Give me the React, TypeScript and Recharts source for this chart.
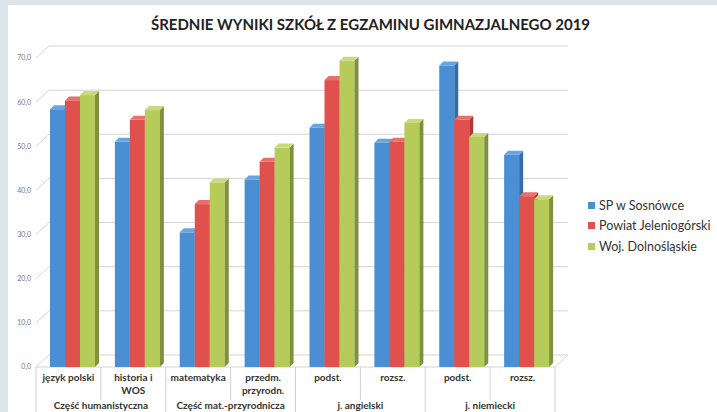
import React from "react";
import { BarChart, Bar, XAxis, YAxis, CartesianGrid, Legend } from "recharts";

const categoryLines = [
  ["język polski"],
  ["historia i", "WOS"],
  ["matematyka"],
  ["przedm.", "przyrodn."],
  ["podst."],
  ["rozsz."],
  ["podst."],
  ["rozsz."],
];
const groups = [
  "Część humanistyczna",
  "Część mat.-przyrodnicza",
  "j. angielski",
  "j. niemiecki",
];
const sosnowka = [58.4, 51.0, 30.5, 42.5, 54.2, 50.8, 68.3, 48.1];
const powiat = [60.4, 56.0, 36.9, 46.5, 65.0, 51.0, 56.0, 38.7];
const wojewodztwo = [61.6, 58.2, 41.8, 49.7, 69.4, 55.3, 52.1, 38.0];
const yTicks = [0, 10, 20, 30, 40, 50, 60, 70];

const series = [
  { key: "sp", name: "SP w Sosnówce", front: "#4a8fd3", side: "#356ea6", top: "#6aa4de" },
  { key: "pow", name: "Powiat Jeleniogórski", front: "#e0514d", side: "#ad3835", top: "#e8706c" },
  { key: "woj", name: "Woj. Dolnośląskie", front: "#b7cb5b", side: "#7f913a", top: "#c9d97c" },
];

const data = categoryLines.map((_, i) => ({
  i,
  sp: sosnowka[i],
  pow: powiat[i],
  woj: wojewodztwo[i],
}));

const W = 709;
const H = 407;
const M = { top: 53, right: 162, left: 0, bottom: 0 };
const Y_AXIS_W = 28;
const X_AXIS_H = 45;
const PLOT_LEFT = M.left + Y_AXIS_W;
const PLOT_W = W - PLOT_LEFT - M.right;
const PLOT_BOTTOM = H - M.bottom - X_AXIS_H;
const BAND = PLOT_W / categoryLines.length;
const DX = 13;
const DY = 12;
const FONT = "Lato, 'Open Sans', sans-serif";

const makeShape = (s: { front: string; side: string; top: string }) => (p: any) => {
  const { x, y, width, height } = p;
  if (!height || height <= 0) return <g />;
  const bx = x + 4;
  const d = 4;
  return (
    <g>
      <rect x={bx} y={y} width={width} height={height} fill={s.front} />
      <path
        d={`M${bx + width},${y} L${bx + width + d},${y - d} L${bx + width + d},${y + height - d} L${bx + width},${y + height} Z`}
        fill={s.side}
      />
      <path
        d={`M${bx},${y} L${bx + d},${y - d} L${bx + width + d},${y - d} L${bx + width},${y} Z`}
        fill={s.top}
      />
    </g>
  );
};

const gridLine = (p: any) => {
  const { x1, x2, y1, index } = p;
  const stroke = "#d4d4d4";
  if (Math.abs(y1 - PLOT_BOTTOM) < 1) {
    return (
      <path
        key={`g-${index}`}
        d={`M${x1},${y1} L${x1 + DX},${y1 - DY} L${x2 + DX},${y1 - DY} L${x2},${y1} Z`}
        fill="none"
        stroke={stroke}
      />
    );
  }
  return (
    <path
      key={`g-${index}`}
      d={`M${x1},${y1} L${x1 + DX},${y1 - DY} L${x2 + DX},${y1 - DY}`}
      fill="none"
      stroke={stroke}
    />
  );
};

const CategoryTick = (p: any) => {
  const { x, payload } = p;
  const i = payload.value as number;
  const left = x - BAND / 2;
  const top = PLOT_BOTTOM;
  const lineColor = "#cfcfcf";
  const isGroupStart = i % 2 === 0;
  return (
    <g>
      <line
        x1={left}
        x2={left}
        y1={top}
        y2={isGroupStart ? H : top + 33}
        stroke={lineColor}
      />
      {i === categoryLines.length - 1 && (
        <line x1={left + BAND} x2={left + BAND} y1={top} y2={H} stroke={lineColor} />
      )}
      {categoryLines[i].map((t, k) => (
        <text
          key={k}
          x={x}
          y={top + 14 + k * 13}
          textAnchor="middle"
          fontFamily={FONT}
          fontWeight={700}
          fontSize={10}
          fill="#333"
        >
          {t}
        </text>
      ))}
      {isGroupStart && (
        <text
          x={x + BAND / 2}
          y={top + 42}
          textAnchor="middle"
          fontFamily={FONT}
          fontWeight={700}
          fontSize={10}
          fill="#333"
        >
          {groups[i / 2]}
        </text>
      )}
    </g>
  );
};

const renderLegend = () => (
  <div style={{ fontFamily: FONT, fontSize: 12.5, color: "#333" }}>
    {series.map((s) => (
      <div key={s.key} style={{ display: "flex", alignItems: "center", height: 20.5 }}>
        <span
          style={{ width: 7, height: 7, background: s.front, marginRight: 4, display: "inline-block" }}
        />
        {s.name}
      </div>
    ))}
  </div>
);

export default function App() {
  return (
    <div
      style={{
        position: "absolute",
        left: 0,
        top: 0,
        width: 717,
        height: 412,
        background: "#dbe5ea",
        overflow: "hidden",
      }}
    >
      <div
        style={{
          position: "absolute",
          left: 8,
          top: 5,
          width: W,
          height: H,
          background: "#fff",
          overflow: "hidden",
        }}
      >
        <div
          style={{
            position: "absolute",
            left: 0,
            top: 10,
            width: 725,
            textAlign: "center",
            fontFamily: FONT,
            fontWeight: 700,
            fontSize: 15,
            color: "#222",
          }}
        >
          ŚREDNIE WYNIKI SZKÓŁ Z EGZAMINU GIMNAZJALNEGO 2019
        </div>
        <BarChart
          width={W}
          height={H}
          data={data}
          margin={M}
          barGap={0}
          barSize={15}
          style={{ position: "absolute", left: 0, top: 0 }}
        >
          <CartesianGrid vertical={false} horizontal={gridLine} />
          <YAxis
            domain={[0, 70]}
            ticks={yTicks}
            width={Y_AXIS_W}
            axisLine={false}
            tickLine={false}
            tick={{ fontSize: 7, fill: "#777", fontFamily: FONT, dx: 3 }}
            tickFormatter={(v: number) => v.toFixed(1).replace(".", ",")}
          />
          <XAxis
            dataKey="i"
            height={X_AXIS_H}
            interval={0}
            axisLine={false}
            tickLine={false}
            tick={CategoryTick}
          />
          <Legend
            layout="vertical"
            align="center"
            verticalAlign="middle"
            content={renderLegend}
            wrapperStyle={{ left: 580, top: 190, width: 130 }}
          />
          {series.map((s) => (
            <Bar
              key={s.key}
              dataKey={s.key}
              name={s.name}
              fill={s.front}
              shape={makeShape(s)}
              isAnimationActive={false}
            />
          ))}
        </BarChart>
      </div>
    </div>
  );
}
